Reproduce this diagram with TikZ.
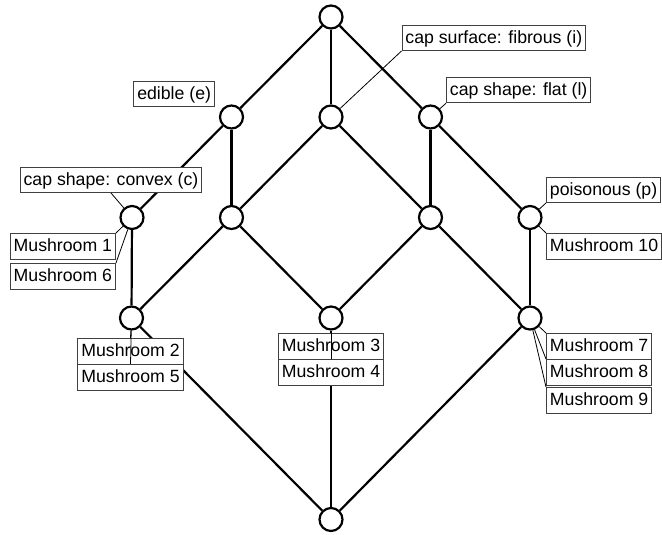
\documentclass[tikz,border=0pt]{standalone}
\usepackage{fontspec}
\setmainfont{Liberation Sans}
\begin{document}
\begin{tikzpicture}[x=1pt,y=-1pt,
  concept/.style={circle,draw,fill=white,line width=2.2pt,minimum size=23pt,inner sep=0pt},
  edge/.style={line width=2.2pt},
  lbl/.style={draw=black!75,fill=white,line width=0.9pt,font=\fontsize{17.7}{20}\selectfont,inner xsep=3.5pt,inner ysep=2.5pt,text height=16pt,text depth=4.5pt},
  lline/.style={line width=0.8pt}]
\useasboundingbox (0,0) rectangle (662,535);
% concepts
\node[concept] (top) at (331,17) {};
\node[concept] (e) at (231.5,117) {};
\node[concept] (i) at (331,117) {};
\node[concept] (l) at (430.5,117) {};
\node[concept] (c) at (132,217.5) {};
\node[concept] (ei) at (231.5,217.5) {};
\node[concept] (il) at (430.5,217.5) {};
\node[concept] (p) at (530,217.5) {};
\node[concept] (ll) at (131.5,318) {};
\node[concept] (ml) at (331,318) {};
\node[concept] (rl) at (530,318) {};
\node[concept] (bot) at (331,519.5) {};
% edges
\draw[edge] (top) -- (e);
\draw[edge] (top) -- (i);
\draw[edge] (top) -- (l);
\draw[edge] (e) -- (c);
\draw[edge] (e) -- (ei);
\draw[edge] (i) -- (ei);
\draw[edge] (i) -- (il);
\draw[edge] (l) -- (il);
\draw[edge] (l) -- (p);
\draw[edge] (c) -- (ll);
\draw[edge] (ei) -- (ll);
\draw[edge] (ei) -- (ml);
\draw[edge] (il) -- (ml);
\draw[edge] (il) -- (rl);
\draw[edge] (p) -- (rl);
\draw[edge] (ll) -- (bot);
\draw[edge] (ml) -- (bot);
\draw[edge] (rl) -- (bot);
% attribute labels
\node[lbl,anchor=south east] (le) at (215,107) {edible (e)};
\node[lbl,anchor=south] (lc) at (111,193) {cap shape: convex (c)};
\node[lbl,anchor=south west] (li) at (401.5,51) {cap surface: fibrous (i)};
\node[lbl,anchor=south west] (ll2) at (446,103.3) {cap shape: flat (l)};
\node[lbl,anchor=south west] (lp) at (546,203) {poisonous (p)};
% object labels
\node[lbl,anchor=north west] (m10) at (546,233) {Mushroom 10};
\node[lbl,anchor=north east] (m1) at (116,233) {Mushroom 1};
\node[lbl,anchor=north east] (m6) at (116,263) {Mushroom 6};
\node[lbl,anchor=north] (m2) at (130.5,338) {Mushroom 2};
\node[lbl,anchor=north] (m5) at (130.5,364) {Mushroom 5};
\node[lbl,anchor=north] (m3) at (331,333) {Mushroom 3};
\node[lbl,anchor=north] (m4) at (331,359) {Mushroom 4};
\node[lbl,anchor=north west] (m7) at (546,333) {Mushroom 7};
\node[lbl,anchor=north west] (m8) at (546,359) {Mushroom 8};
\node[lbl,anchor=north west] (m9) at (546,387) {Mushroom 9};
% label connectors
\draw[lline] (lc.south) -- (c);
\draw[lline] (li.south west) -- (i);
\draw[lline] (ll2.south west) -- (l);
\draw[lline] (lp.south west) -- (p);
\draw[lline] (m10.north west) -- (p);
\draw[lline] (m1.north east) -- (c);
\draw[lline] (m6.north east) -- (c);
\draw[lline] (m2.north) -- (ll);
\draw[lline] (m5.north) -- (ll);
\draw[lline] (m3.north) -- (ml);
\draw[lline] (m4.north) -- (ml);
\draw[lline] (m7.north west) -- (rl);
\draw[lline] (m8.north west) -- (rl);
\draw[lline] (m9.north west) -- (rl);
\end{tikzpicture}
\end{document}
